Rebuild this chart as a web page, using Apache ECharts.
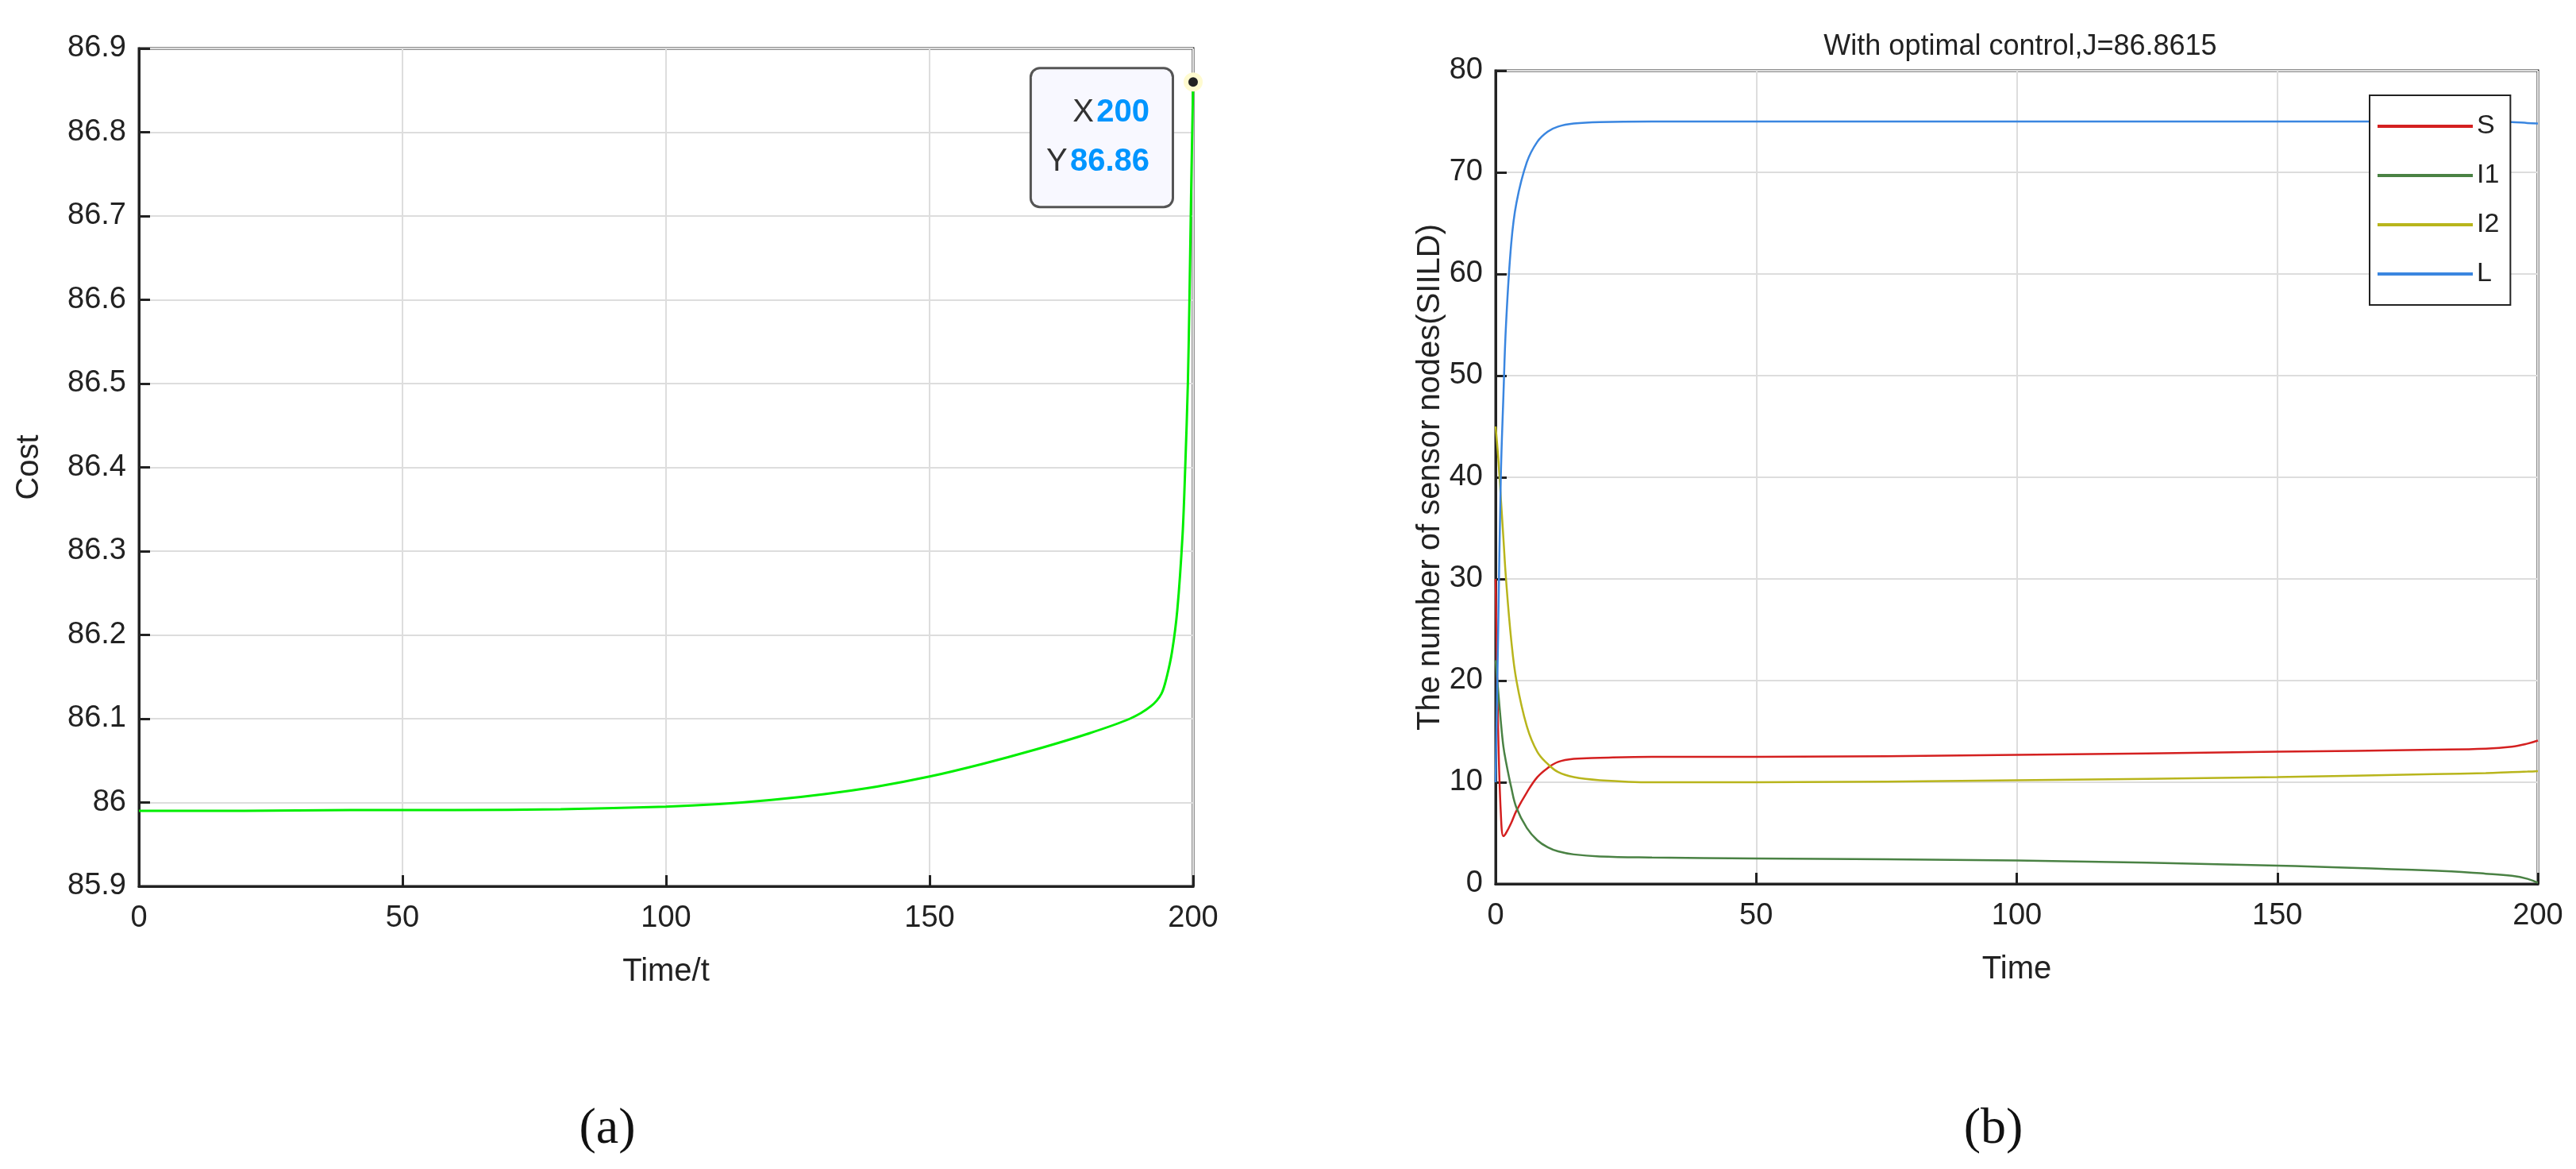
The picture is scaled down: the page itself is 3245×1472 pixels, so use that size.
<!DOCTYPE html>
<html><head><meta charset="utf-8">
<script src="https://cdn.jsdelivr.net/npm/echarts@6/dist/echarts.min.js"></script>
<style>html,body{margin:0;background:#fff}#c{width:3245px;height:1472px}</style>
</head><body><div id="c"></div>
<script>
const costT = [0,20,40,60,80,100,110,120,130,140,150,160,170,180,188,192,194,195,196,197,198,198.5,199,199.3,199.6,200];
const costV = [85.99,85.99,85.991,85.991,85.992,85.995,85.998,86.003,86.01,86.019,86.031,86.046,86.063,86.082,86.1,86.115,86.13,86.15,86.18,86.23,86.32,86.4,86.5,86.6,86.72,86.86];
const tS = [0,0.5,1,1.5,2,3,4,6,8,10,12,15,20,30,50,100,150,180,190,195,198,200];
const sV = [30,15,7,4.7,5,6,7.2,9,10.5,11.4,12,12.3,12.4,12.5,12.5,12.7,13.0,13.2,13.3,13.5,13.8,14.1];
const i1V = [22,19,16,13.5,12,9.5,7.5,5.5,4.3,3.6,3.2,2.9,2.7,2.6,2.5,2.3,1.8,1.3,1.0,0.8,0.5,0.1];
const i2V = [45,42,38,34,30,24,20,15.5,13,11.8,11,10.5,10.2,10.0,10.0,10.2,10.5,10.8,10.9,11.0,11.05,11.1];
const lV  = [10,25,40,48,55,63,67,71,73,74,74.5,74.8,74.95,75,75,75,75,75,75,74.95,74.85,74.8];
const xTicks = [0,50,100,150,200];
const z = (a,b)=>a.map((v,i)=>[v,b[i]]);
const F='Arial, "Liberation Sans", sans-serif';
const chart = echarts.init(document.getElementById('c'));
function yAx(gi,min,max,iv,name,gap){return {gridIndex:gi,type:'value',min,max,interval:iv,name,nameLocation:'middle',nameGap:gap,
 nameTextStyle:{fontSize:40,color:'#222',fontFamily:F},
 axisLine:{show:true,lineStyle:{color:'#222',width:3}},axisTick:{inside:true,length:14,lineStyle:{color:'#222',width:3}},
 axisLabel:{fontSize:38,color:'#222',fontFamily:F,margin:16,formatter:v=>+v.toFixed(1)+''},splitLine:{lineStyle:{color:'#ddd',width:2}}};}
function xAx(gi,name){return {gridIndex:gi,type:'value',min:0,max:200,interval:50,name,nameLocation:'middle',nameGap:88,
 nameTextStyle:{fontSize:40,color:'#222',fontFamily:F},
 axisLine:{show:true,lineStyle:{color:'#222',width:3}},axisTick:{inside:true,length:14,lineStyle:{color:'#222',width:3}},
 axisLabel:{fontSize:38,color:'#222',fontFamily:F,margin:22},splitLine:{lineStyle:{color:'#ddd',width:2}}};}
chart.setOption({
 animation:false,
 title:[{text:'With optimal control,J=86.8615',left:2540,top:36,textAlign:'center',textStyle:{fontSize:36,fontWeight:'normal',color:'#222',fontFamily:F}},
  {text:'(a)',left:760,top:1385,textAlign:'center',textStyle:{fontSize:64,fontWeight:'normal',fontFamily:'"Liberation Serif",serif',color:'#111'}},
  {text:'(b)',left:2506,top:1385,textAlign:'center',textStyle:{fontSize:64,fontWeight:'normal',fontFamily:'"Liberation Serif",serif',color:'#111'}}],
 grid:[{left:175,top:61,width:1328,height:1055,show:true,borderColor:'#222',borderWidth:3},
       {left:1884,top:89,width:1313,height:1024,show:true,borderColor:'#222',borderWidth:3}],
 xAxis:[xAx(0,'Time/t'),xAx(1,'Time')],
 yAxis:[yAx(0,85.9,86.9,0.1,'Cost',118),yAx(1,0,80,10,'The number of sensor nodes(SIILD)',62)],
 legend:{gridIndex:1,orient:'vertical',left:2985,top:120,width:183,itemWidth:120,itemHeight:4,itemGap:28,padding:[22,14,22,10],
  borderColor:'#222',borderWidth:2,backgroundColor:'#fff',icon:'rect',
  textStyle:{fontSize:34,color:'#222',fontFamily:F},data:['S','I1','I2','L']},
 series:[
  {type:'line',xAxisIndex:0,yAxisIndex:0,data:z(costT,costV),showSymbol:false,smooth:0.3,lineStyle:{color:'#00ee00',width:3},
   markPoint:{symbol:'circle',symbolSize:18,itemStyle:{color:'#222',borderColor:'#fffbd0',borderWidth:6},
    data:[{coord:[200,86.86],label:{show:true,position:'left',offset:[-10,70],formatter:'{k|X} {v|200}\n{k|Y} {v|86.86}',
     backgroundColor:'#f8f8ff',borderColor:'#555',borderWidth:3,borderRadius:10,padding:[24,28,24,18],
     rich:{k:{fontSize:40,color:'#333',fontFamily:F,lineHeight:62},v:{fontSize:40,color:'#0095ff',fontWeight:'bold',fontFamily:F,lineHeight:62}}}}]}},
  {name:'S',type:'line',xAxisIndex:1,yAxisIndex:1,data:z(tS,sV),showSymbol:false,smooth:0.4,color:'#d42020',lineStyle:{width:2.5}},
  {name:'I1',type:'line',xAxisIndex:1,yAxisIndex:1,data:z(tS,i1V),showSymbol:false,smooth:0.4,color:'#4a8244',lineStyle:{width:2.5}},
  {name:'I2',type:'line',xAxisIndex:1,yAxisIndex:1,data:z(tS,i2V),showSymbol:false,smooth:0.4,color:'#b8b51c',lineStyle:{width:2.5}},
  {name:'L',type:'line',xAxisIndex:1,yAxisIndex:1,data:z(tS,lV),showSymbol:false,smooth:0.4,color:'#3a86e0',lineStyle:{width:2.5}}
 ]
});
</script></body></html>
